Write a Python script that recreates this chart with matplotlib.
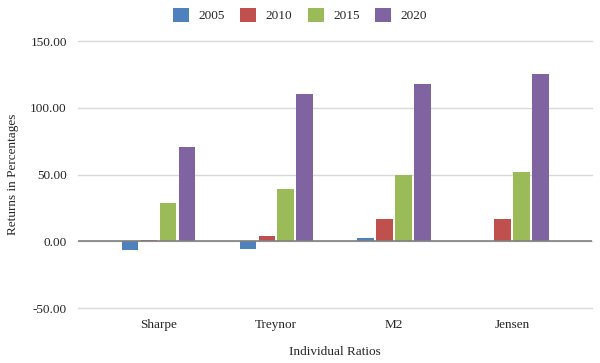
import matplotlib.pyplot as plt
import numpy as np

plt.rcParams['font.family'] = ['Liberation Serif', 'DejaVu Serif']

categories = ["Sharpe", "Treynor", "M2", "Jensen"]
years = ["2005", "2010", "2015", "2020"]
v2005 = [-6.5, -5.5, 2.8, 0.3]
v2010 = [1.0, 3.7, 17.0, 16.3]
v2015 = [28.3, 39.5, 49.5, 52.0]
v2020 = [70.8, 110.0, 118.0, 125.0]
series = [v2005, v2010, v2015, v2020]
colors = ["#4F81BD", "#C0504D", "#9BBB59", "#8064A2"]

fig = plt.figure(figsize=(6, 3.63), dpi=100)
ax = fig.add_axes([0.13, 0.1515, 0.857, 0.7355])

x = np.arange(len(categories))
step = 0.161
for i, vals in enumerate(series):
    ax.bar(x + (i - 1.5) * step, vals, width=0.138, color=colors[i],
           label=years[i], zorder=3)

ax.set_ylim(-50, 150)
ax.set_xlim(-0.68, 3.68)
ax.set_yticks([-50, 0, 50, 100, 150])
ax.set_yticklabels(["%.2f" % t for t in [-50, 0, 50, 100, 150]])
ax.set_xticks(x)
ax.set_xticklabels(categories)
ax.grid(axis='y', color='#d9d9d9', linewidth=1, zorder=0)
for gl in ax.get_ygridlines():
    gl.set_clip_on(False)
ax.axhline(0, color='#7f7f7f', linewidth=1.2, zorder=4)
for s in ax.spines.values():
    s.set_visible(False)
ax.tick_params(axis='both', length=0, labelsize=9.5, colors='#262626')
ax.tick_params(axis='y', pad=8)
ax.tick_params(axis='x', pad=8)

ax.set_xlabel("Individual Ratios", fontsize=9.5, labelpad=11, color='#262626')
ax.set_ylabel("Returns in Percentages", fontsize=9.5, labelpad=8, color='#262626')

fig.legend(loc='upper center', bbox_to_anchor=(0.5, 1.01), ncol=4,
           frameon=False, fontsize=9.5, handlelength=1.2, handleheight=1.2,
           handletextpad=0.7, columnspacing=1.2, labelcolor='#262626')

fig.savefig("out.png", dpi=100)
